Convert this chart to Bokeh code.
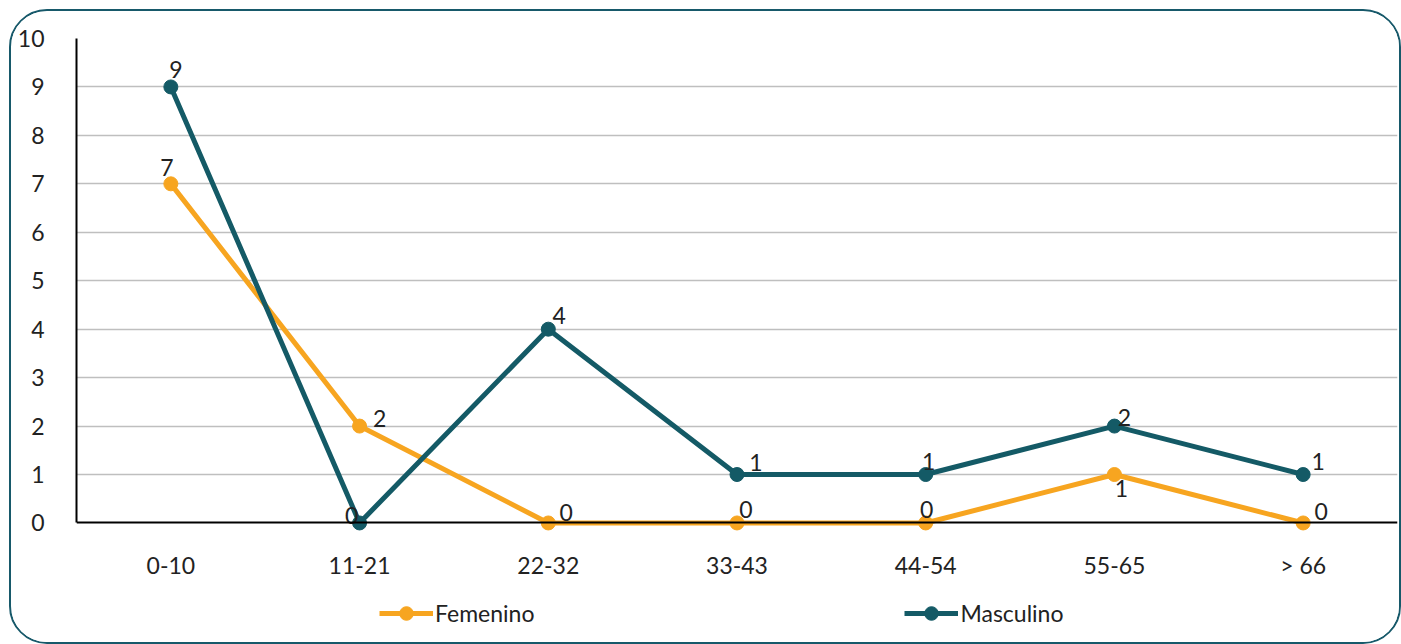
from bokeh.plotting import figure
from bokeh.models import ColumnDataSource, Legend, LegendItem, FixedTicker
from bokeh.core.properties import value
from bokeh.embed import file_html
from bokeh.resources import INLINE

categories = ["0-10", "11-21", "22-32", "33-43", "44-54", "55-65", "> 66"]
femenino = [7, 2, 0, 0, 0, 1, 0]
masculino = [9, 0, 4, 1, 1, 2, 1]

# label offsets (style only, screen pixels; negative dy = up)
fem_dx = [-4, 20, 18, 9, 1, 7, 18]
fem_dy = [-16, -8, -10, -13, -13, 14, -11]
mas_dx = [5, -8, 11, 19, 3, 10, 15]
mas_dy = [-17, -7, -14, -12, -13, -9, -13]

FONT = "Lato"
FS = "23px"
ORANGE = "#F7A520"
TEAL = "#145A66"
TXT = "#222222"

p = figure(x_range=categories, y_range=(-2.55, 10), width=1392, height=635,
           output_backend="svg", toolbar_location=None,
           min_border_left=65, min_border_top=27, min_border_right=6, min_border_bottom=0,
           styles={"border": "2.5px solid #17596A", "border-radius": "38px",
                   "box-sizing": "border-box", "overflow": "hidden",
                   "margin": "9px 0 0 9px"})
p.outline_line_color = None
p.background_fill_color = "white"

p.yaxis.ticker = FixedTicker(ticks=list(range(0, 11)))
p.yaxis.bounds = (0, 10)
p.ygrid.ticker = FixedTicker(ticks=list(range(1, 11)))
p.xgrid.grid_line_color = None
p.ygrid.grid_line_color = "#BFBFBF"
p.ygrid.grid_line_width = 1.3
p.xaxis.fixed_location = 0

for ax in (p.xaxis, p.yaxis):
    ax.axis_line_color = "black"
    ax.axis_line_width = 2
    ax.major_tick_line_color = None
    ax.minor_tick_line_color = None
    ax.major_label_text_font = FONT
    ax.major_label_text_font_size = FS
    ax.major_label_text_color = TXT
p.yaxis.major_label_standoff = 26
p.xaxis.major_label_standoff = 22

src = ColumnDataSource(dict(x=categories, fem=femenino, mas=masculino,
                            fl=[str(v) for v in femenino], ml=[str(v) for v in masculino],
                            fdx=fem_dx, fdy=fem_dy, mdx=mas_dx, mdy=mas_dy))

lf = p.line("x", "fem", source=src, color=ORANGE, line_width=5)
cf = p.scatter("x", "fem", source=src, color=ORANGE, size=14)
lm = p.line("x", "mas", source=src, color=TEAL, line_width=5)
cm = p.scatter("x", "mas", source=src, color=TEAL, size=14)

p.text("x", "fem", text="fl", source=src, x_offset="fdx", y_offset="fdy",
       text_align="center", text_baseline="middle",
       text_font=value(FONT), text_font_size=FS, text_color=TXT)
p.text("x", "mas", text="ml", source=src, x_offset="mdx", y_offset="mdy",
       text_align="center", text_baseline="middle",
       text_font=value(FONT), text_font_size=FS, text_color=TXT)

legend = Legend(items=[LegendItem(label="Femenino", renderers=[lf, cf]),
                       LegendItem(label="Masculino", renderers=[lm, cm])],
                orientation="horizontal", location=(303, 16),
                glyph_width=54, glyph_height=34, label_standoff=2, spacing=370,
                label_text_font=FONT, label_text_font_size=FS, label_text_color=TXT,
                border_line_color=None, background_fill_alpha=0, margin=0, padding=4)
p.add_layout(legend, "center")

open("out.html", "w").write(file_html(p, INLINE))
